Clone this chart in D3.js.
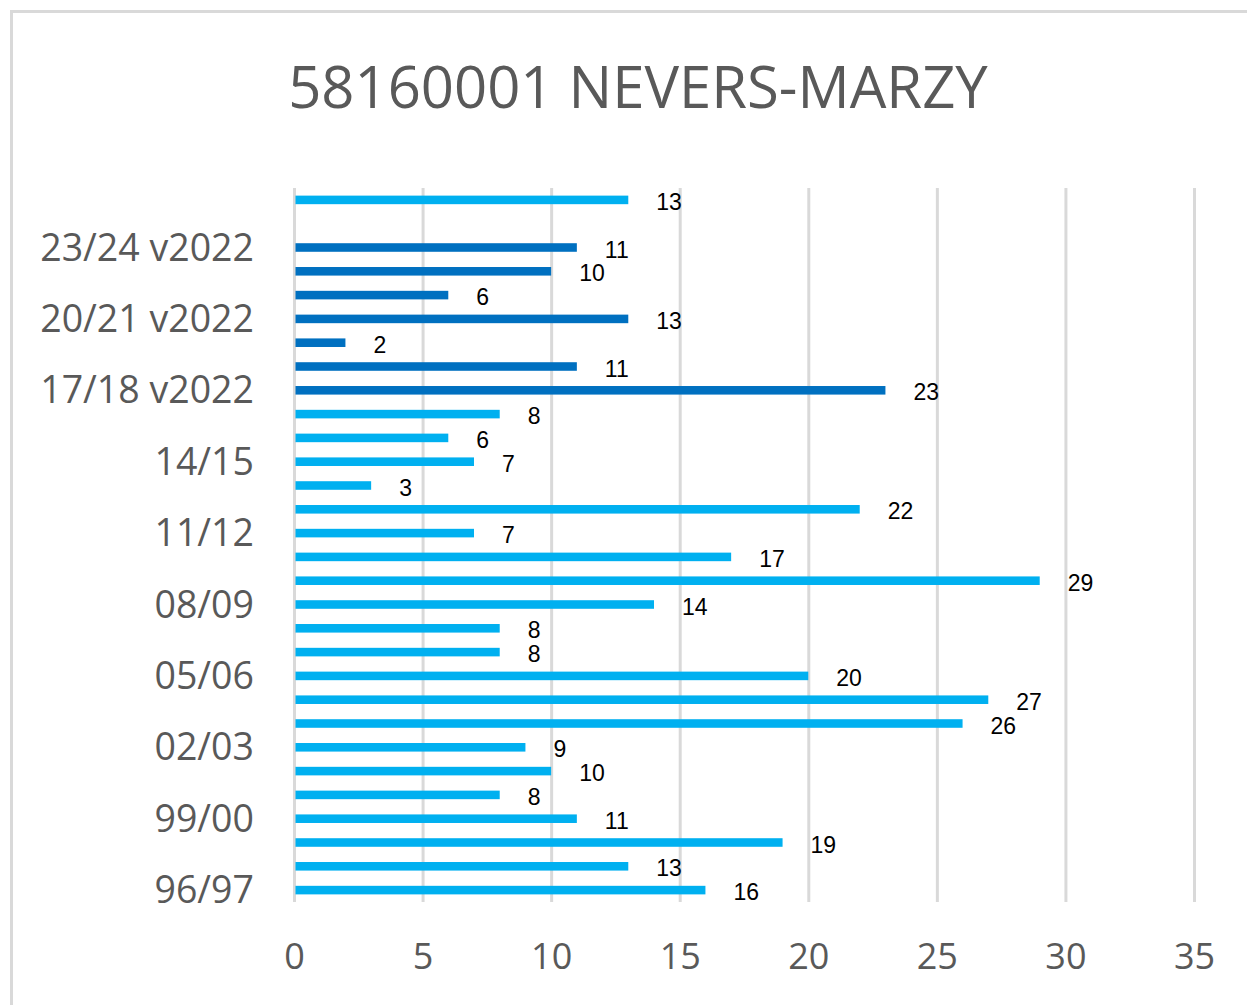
<!DOCTYPE html>
<html>
<head>
<meta charset="utf-8">
<script src="https://cdn.jsdelivr.net/npm/d3@7/dist/d3.min.js"></script>
<style>
  html, body { margin: 0; padding: 0; background: #ffffff; }
  svg { display: block; }
</style>
</head>
<body>
<script>
// Winter seasons, oldest first (bottom of the chart)
const seasons = [
  "96/97", "97/98", "98/99", "99/00", "00/01", "01/02", "02/03", "03/04",
  "04/05", "05/06", "06/07", "07/08", "08/09", "09/10", "10/11", "11/12",
  "12/13", "13/14", "14/15", "15/16", "16/17", "17/18 v2022", "18/19 v2022",
  "19/20 v2022", "20/21 v2022", "21/22 v2022", "22/23 v2022", "23/24 v2022",
  "24/25 v2022", "25/26"
];

// Counts from the original series
const baseCounts = [
  16, 13, 19, 11, 8, 10, 9, 26, 27, 20, 8, 8, 14, 29, 17, 7, 22, 3, 7, 6, 8,
  null, null, null, null, null, null, null, null, 13
];

// Counts recomputed with the 2022 version
const v2022Counts = [
  null, null, null, null, null, null, null, null, null, null, null, null,
  null, null, null, null, null, null, null, null, null,
  23, 11, 2, 13, 6, 10, 11, null, null
];

const xTicks = [0, 5, 10, 15, 20, 25, 30, 35];

const W = 1247, H = 1005;
const plot = { left: 294, right: 1194, top: 188, bottom: 902 };
const axisColor = "#595959";
const gridColor = "#d9d9d9";

const svg = d3.select("body").append("svg")
  .attr("width", W).attr("height", H);

// chart frame
svg.append("rect")
  .attr("x", 11.5).attr("y", 11.5)
  .attr("width", W + 20).attr("height", H + 20)
  .attr("fill", "none").attr("stroke", gridColor).attr("stroke-width", 3);

// title
svg.append("text")
  .attr("x", 638).attr("y", 108)
  .attr("text-anchor", "middle")
  .attr("font-family", "'Open Sans', sans-serif")
  .attr("font-size", 58)
  .attr("fill", axisColor)
  .text("58160001 NEVERS-MARZY");

const x = d3.scaleLinear().domain([0, 35]).range([plot.left, plot.right]);
const y = d3.scaleBand().domain(seasons).range([plot.bottom, plot.top]).padding(0);
const barH = y.step() * 0.36;

// vertical gridlines + value axis labels
const xAxis = d3.axisBottom(x)
  .tickValues(xTicks)
  .tickSize(-(plot.bottom - plot.top))
  .tickPadding(0)
  .tickFormat(d3.format("d"));

const gx = svg.append("g")
  .attr("transform", `translate(0,${plot.bottom})`)
  .call(xAxis);
gx.select(".domain").remove();
gx.selectAll(".tick line").attr("stroke", gridColor).attr("stroke-width", 3);
gx.selectAll(".tick text")
  .attr("y", 67).attr("dy", 0)
  .attr("font-family", "'Open Sans', sans-serif")
  .attr("font-size", 36)
  .attr("fill", axisColor);

// category axis, labelled every third season
const yAxis = d3.axisLeft(y)
  .tickValues(seasons.filter((d, i) => i % 3 === 0 && i < 28))
  .tickSize(0)
  .tickPadding(40);
const gy = svg.append("g")
  .attr("transform", `translate(${plot.left},0)`)
  .call(yAxis);
gy.select(".domain").remove();
gy.selectAll(".tick text")
  .attr("font-family", "'Open Sans', sans-serif")
  .attr("font-size", 37.5)
  .attr("fill", axisColor)
  .attr("dy", "0.35em");

// bars
const series = [
  { values: baseCounts, color: "#00b0f0" },
  { values: v2022Counts, color: "#0070c0" }
];

series.forEach(s => {
  const rows = seasons.map((season, i) => ({ season, value: s.values[i] }))
    .filter(d => d.value != null);

  svg.append("g").selectAll("rect")
    .data(rows)
    .join("rect")
    .attr("x", x(0) + 1.5)
    .attr("y", d => y(d.season) + y.bandwidth() / 2 - barH / 2)
    .attr("width", d => x(d.value) - x(0) - 1.5)
    .attr("height", barH)
    .attr("fill", s.color);

  svg.append("g").selectAll("text")
    .data(rows)
    .join("text")
    .attr("x", d => x(d.value) + 28)
    .attr("y", d => y(d.season) + y.bandwidth() / 2 + 2)
    .attr("dy", "0.35em")
    .attr("font-family", "'Liberation Sans', Arial, sans-serif")
    .attr("font-size", 23)
    .attr("fill", "#000000")
    .text(d => d.value);
});
</script>
</body>
</html>
